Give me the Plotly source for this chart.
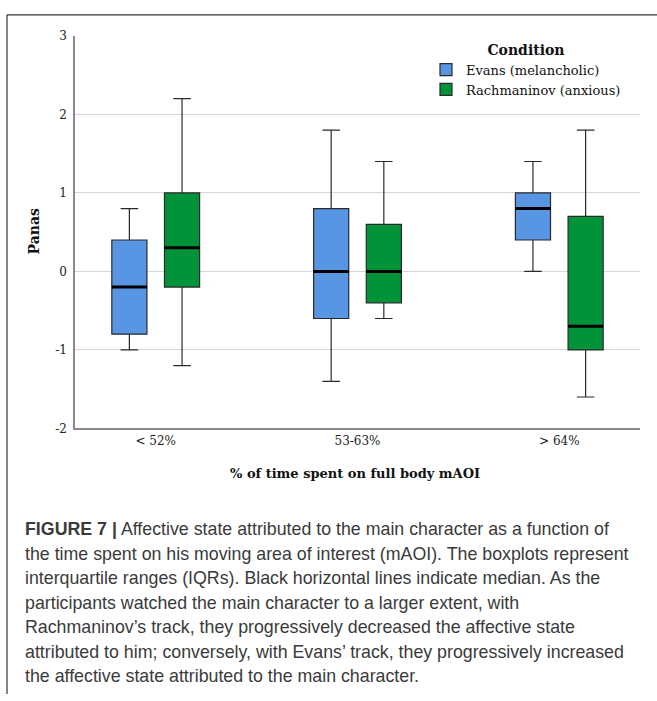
import plotly.graph_objects as go

W, H = 657, 701

categories = ["< 52%", "53-63%", "> 64%"]
series_names = ["Evans (melancholic)", "Rachmaninov (anxious)"]
series_colors = ["#5895E3", "#00933A"]

# box statistics per category
evans_low = [-1.0, -1.4, 0.0]
evans_q1 = [-0.8, -0.6, 0.4]
evans_med = [-0.2, 0.0, 0.8]
evans_q3 = [0.4, 0.8, 1.0]
evans_high = [0.8, 1.8, 1.4]

rach_low = [-1.2, -0.6, -1.6]
rach_q1 = [-0.2, -0.4, -1.0]
rach_med = [0.3, 0.0, -0.7]
rach_q3 = [1.0, 0.6, 0.7]
rach_high = [2.2, 1.4, 1.8]

y_ticks = [-2, -1, 0, 1, 2, 3]

caption_lines = [
    "<b>FIGURE 7 |</b> Affective state attributed to the main character as a function of",
    "the time spent on his moving area of interest (mAOI). The boxplots represent",
    "interquartile ranges (IQRs). Black horizontal lines indicate median. As the",
    "participants watched the main character to a larger extent, with",
    "Rachmaninov\u2019s track, they progressively decreased the affective state",
    "attributed to him; conversely, with Evans\u2019 track, they progressively increased",
    "the affective state attributed to the main character.",
]

SERIF = "DejaVu Serif"

def px(x):
    return x / W

def py(y):
    return 1 - y / H

fig = go.Figure()

stats = [
    (evans_low, evans_q1, evans_med, evans_q3, evans_high),
    (rach_low, rach_q1, rach_med, rach_q3, rach_high),
]

for i, (lo, q1, med, q3, hi) in enumerate(stats):
    fig.add_trace(go.Box(
        name=series_names[i], x=categories,
        q1=q1, median=med, q3=q3, lowerfence=lo, upperfence=hi,
        fillcolor=series_colors[i],
        line=dict(color="#2a2a2a", width=1.2),
        whiskerwidth=0.5, boxpoints=False,
        offsetgroup=f"g{i}", showlegend=True, hoverinfo="skip",
    ))
    # thick median line overlay
    fig.add_trace(go.Box(
        name=series_names[i] + " median", x=categories,
        q1=med, median=med, q3=med, lowerfence=med, upperfence=med,
        fillcolor="rgba(0,0,0,0)",
        line=dict(color="#000000", width=3),
        whiskerwidth=0, boxpoints=False,
        offsetgroup=f"g{i}", showlegend=False, hoverinfo="skip",
    ))

fig.update_layout(
    width=W, height=H,
    margin=dict(l=0, r=0, t=0, b=0),
    paper_bgcolor="white", plot_bgcolor="white",
    boxmode="group", boxgap=0.478, boxgroupgap=0.333,
    showlegend=True,
    legend=dict(
        x=px(426), y=py(30), xanchor="left", yanchor="top",
        bgcolor="rgba(0,0,0,0)",
        font=dict(family=SERIF, size=13, color="#111"),
        title=dict(text="<b>Condition</b>", side="top center",
                   font=dict(family=SERIF, size=14, color="#111")),
        itemwidth=30, tracegroupgap=0,
    ),
    xaxis=dict(
        domain=[px(75), px(640)],
        type="category", range=[-0.4, 2.4],
        showgrid=False, zeroline=False,
        showline=True, linecolor="#8a8a8a", linewidth=1.5,
        ticks="", tickfont=dict(family=SERIF, size=12, color="#222"),
        fixedrange=True,
    ),
    yaxis=dict(
        domain=[py(430), py(29.5)],
        range=[-2, 3], tickvals=y_ticks,
        ticktext=[str(v) for v in y_ticks],
        showgrid=True, gridcolor="#d6d6d6", gridwidth=1.3,
        zeroline=False,
        showline=True, linecolor="#8a8a8a", linewidth=1.5,
        ticks="", ticklabelstandoff=4,
        tickfont=dict(family=SERIF, size=12, color="#222"),
        fixedrange=True,
    ),
    font=dict(family=SERIF),
)

annotations = [
    dict(text="<b>Panas</b>", x=px(34), y=py(229), xref="paper", yref="paper",
         textangle=-90, showarrow=False, xanchor="center", yanchor="middle",
         font=dict(family=SERIF, size=14, color="#111")),
    dict(text="<b>% of time spent on full body mAOI</b>", x=px(355), y=py(476),
         xref="paper", yref="paper", showarrow=False,
         xanchor="center", yanchor="middle",
         font=dict(family=SERIF, size=13, color="#111")),
]

line_y0 = 533
line_step = 25
for k, t in enumerate(caption_lines):
    annotations.append(dict(
        text=t, x=px(23), y=py(line_y0 + k * line_step),
        xref="paper", yref="paper", showarrow=False,
        xanchor="left", yanchor="middle", align="left",
        font=dict(family="Liberation Sans", size=17.8, color="#3a3a3a"),
    ))

fig.update_layout(annotations=annotations)

# outer frame (top and left edges)
fig.add_shape(type="line", xref="paper", yref="paper",
              x0=px(7), x1=1.0, y0=py(8), y1=py(8),
              line=dict(color="#333", width=1.2))
fig.add_shape(type="line", xref="paper", yref="paper",
              x0=px(7), x1=px(7), y0=py(8), y1=0,
              line=dict(color="#333", width=1.2))

fig.write_html("out.html")
